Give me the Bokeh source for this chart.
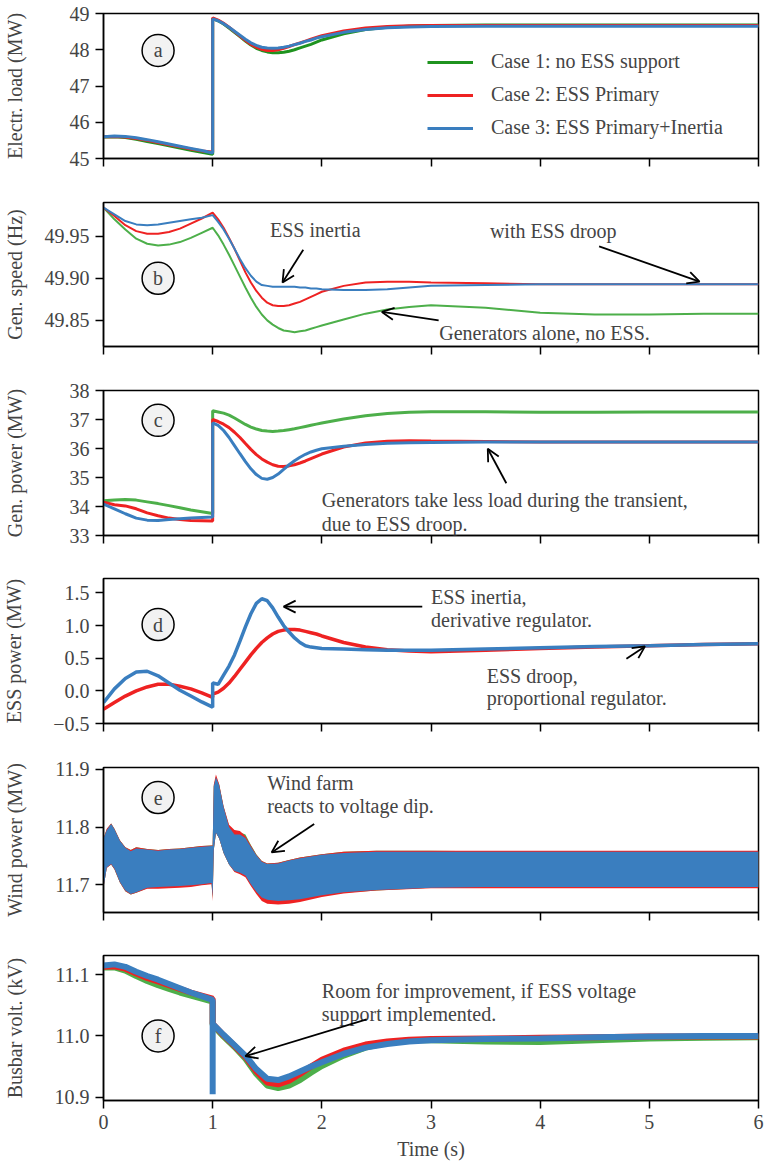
from bokeh.plotting import figure
from bokeh.layouts import column
from bokeh.models import (Range1d, FixedTicker, Label, Arrow, OpenHead, Legend, LegendItem)
from bokeh.embed import file_html
from bokeh.resources import INLINE

FONT = "Liberation Serif"
GREEN_A = "#1f931f"
GREEN = "#4daf4a"
RED = "#ee2222"
BLUE = "#3a7ebf"

# ---------------- data ----------------
T = [0, 0.1, 0.2, 0.3, 0.4, 0.5, 0.6, 0.7, 0.8, 0.9, 1.0,
     1.0, 1.05, 1.1, 1.15, 1.2, 1.25, 1.3, 1.35, 1.4, 1.45,
     1.5, 1.55, 1.6, 1.65, 1.7, 1.75, 1.8, 1.85, 1.9, 1.95, 2.0,
     2.2, 2.4, 2.6, 2.8, 3.0, 3.5, 4.0, 4.5, 5.0, 5.5, 6.0]

# (a) electrical load, MW
load_case1 = [45.59, 45.60, 45.58, 45.53, 45.47, 45.41, 45.35, 45.29, 45.23, 45.17, 45.12,
              48.86, 48.80, 48.71, 48.60, 48.48, 48.36, 48.24, 48.13, 48.04, 47.98,
              47.94, 47.92, 47.92, 47.93, 47.96, 48.00, 48.05, 48.10, 48.15, 48.21, 48.27,
              48.44, 48.56, 48.62, 48.65, 48.67, 48.68, 48.68, 48.68, 48.68, 48.68, 48.68]
load_case2 = [45.60, 45.61, 45.59, 45.55, 45.50, 45.44, 45.38, 45.32, 45.26, 45.21, 45.18,
              48.88, 48.82, 48.73, 48.62, 48.50, 48.38, 48.26, 48.15, 48.07, 48.01,
              47.98, 47.98, 48.00, 48.04, 48.09, 48.14, 48.19, 48.24, 48.29, 48.34, 48.39,
              48.52, 48.60, 48.64, 48.66, 48.67, 48.67, 48.67, 48.67, 48.67, 48.67, 48.67]
load_case3 = [45.60, 45.62, 45.61, 45.57, 45.52, 45.46, 45.40, 45.34, 45.28, 45.22, 45.15,
              48.85, 48.80, 48.72, 48.62, 48.51, 48.40, 48.29, 48.19, 48.12, 48.07,
              48.05, 48.04, 48.05, 48.07, 48.10, 48.14, 48.18, 48.23, 48.27, 48.32, 48.36,
              48.48, 48.56, 48.61, 48.63, 48.64, 48.65, 48.65, 48.65, 48.65, 48.65, 48.65]

# (b) generator speed, Hz
speed_case1 = [49.984, 49.970, 49.958, 49.947, 49.941, 49.939, 49.940, 49.943, 49.948, 49.954, 49.960,
               49.960, 49.951, 49.940, 49.928, 49.915, 49.902, 49.889, 49.877, 49.866, 49.857,
               49.850, 49.845, 49.841, 49.838, 49.837, 49.836, 49.837, 49.838, 49.840, 49.842, 49.844,
               49.851, 49.858, 49.863, 49.866, 49.868, 49.865, 49.859, 49.857, 49.857, 49.858, 49.858]
speed_case2 = [49.984, 49.974, 49.963, 49.956, 49.953, 49.953, 49.955, 49.959, 49.965, 49.971, 49.978,
               49.978, 49.970, 49.960, 49.948, 49.935, 49.921, 49.907, 49.895, 49.885, 49.877,
               49.871, 49.868, 49.867, 49.867, 49.868, 49.870, 49.872, 49.875, 49.878, 49.881, 49.884,
               49.891, 49.895, 49.896, 49.896, 49.895, 49.894, 49.893, 49.893, 49.893, 49.893, 49.893]
speed_case3 = [49.984, 49.976, 49.968, 49.964, 49.963, 49.964, 49.966, 49.968, 49.970, 49.972, 49.975,
               49.975, 49.967, 49.958, 49.947, 49.935, 49.923, 49.912, 49.903, 49.896, 49.892,
               49.891, 49.890, 49.890, 49.890, 49.890, 49.890, 49.889, 49.889, 49.888, 49.888, 49.887,
               49.886, 49.886, 49.887, 49.889, 49.891, 49.892, 49.893, 49.893, 49.893, 49.893, 49.893]

# (c) generator power, MW
gen_case1 = [34.20, 34.22, 34.24, 34.22, 34.16, 34.10, 34.03, 33.96, 33.88, 33.82, 33.76,
             37.30, 37.26, 37.22, 37.15, 37.05, 36.94, 36.83, 36.74, 36.67, 36.62,
             36.60, 36.59, 36.60, 36.62, 36.65, 36.68, 36.72, 36.76, 36.80, 36.84, 36.88,
             37.02, 37.13, 37.21, 37.25, 37.27, 37.27, 37.25, 37.25, 37.26, 37.26, 37.26]
gen_case2 = [34.15, 34.06, 34.02, 33.92, 33.78, 33.68, 33.60, 33.55, 33.52, 33.51, 33.50,
             37.00, 36.93, 36.84, 36.72, 36.56, 36.38, 36.17, 35.97, 35.79, 35.64,
             35.53, 35.44, 35.39, 35.38, 35.40, 35.44, 35.50, 35.57, 35.65, 35.73, 35.81,
             36.05, 36.19, 36.25, 36.27, 36.26, 36.24, 36.22, 36.22, 36.22, 36.22, 36.22]
gen_case3 = [34.08, 33.92, 33.75, 33.60, 33.53, 33.52, 33.55, 33.58, 33.60, 33.62, 33.64,
             36.88, 36.80, 36.62, 36.38, 36.10, 35.82, 35.55, 35.30, 35.10, 34.97,
             34.94, 35.00, 35.12, 35.28, 35.44, 35.58, 35.70, 35.80, 35.88, 35.94, 35.99,
             36.08, 36.14, 36.18, 36.20, 36.21, 36.22, 36.22, 36.22, 36.22, 36.22, 36.22]

# (d) ESS power, MW
ess_case2 = [-0.28, -0.18, -0.08, 0.00, 0.06, 0.10, 0.10, 0.07, 0.03, -0.03, -0.10,
             -0.05, -0.02, 0.04, 0.12, 0.22, 0.33, 0.44, 0.55, 0.65, 0.74,
             0.81, 0.87, 0.91, 0.93, 0.94, 0.94, 0.93, 0.91, 0.89, 0.87, 0.84,
             0.74, 0.67, 0.63, 0.61, 0.60, 0.62, 0.65, 0.67, 0.69, 0.71, 0.72]
ess_case3 = [-0.18, 0.03, 0.19, 0.29, 0.30, 0.23, 0.12, 0.01, -0.08, -0.17, -0.25,
             0.12, 0.10, 0.24, 0.38, 0.55, 0.76, 0.98, 1.18, 1.34, 1.41,
             1.38, 1.27, 1.13, 1.00, 0.90, 0.81, 0.74, 0.69, 0.67, 0.66, 0.65,
             0.64, 0.63, 0.62, 0.62, 0.62, 0.64, 0.66, 0.68, 0.69, 0.71, 0.72]

# (e) wind power envelope (lower / upper), MW
TE = [0, 0.03, 0.07, 0.1, 0.15, 0.2, 0.25, 0.3, 0.4, 0.5, 0.6, 0.7, 0.8, 0.9, 0.99,
      1.0, 1.01, 1.03, 1.06, 1.1, 1.15, 1.2, 1.25, 1.3, 1.35, 1.4, 1.45, 1.5, 1.6, 1.7, 1.8,
      2.0, 2.2, 2.5, 3.0, 3.5, 4.0, 4.5, 5.0, 5.5, 6.0]
wind_case1_hi = [11.780, 11.796, 11.806, 11.797, 11.777, 11.765, 11.760, 11.765, 11.762, 11.760, 11.762,
                 11.763, 11.765, 11.767, 11.768, 11.768, 11.871, 11.887, 11.873, 11.835, 11.802,
                 11.791, 11.791, 11.787, 11.769, 11.753, 11.741, 11.737, 11.738, 11.743, 11.747,
                 11.753, 11.757, 11.759, 11.759, 11.758, 11.758, 11.758, 11.758, 11.758, 11.758]
wind_case1_lo = [11.695, 11.730, 11.735, 11.727, 11.704, 11.689, 11.683, 11.686, 11.694, 11.695, 11.696,
                 11.697, 11.698, 11.700, 11.702, 11.677, 11.760, 11.790, 11.780, 11.755, 11.735,
                 11.723, 11.720, 11.715, 11.700, 11.686, 11.675, 11.671, 11.669, 11.670, 11.673,
                 11.681, 11.686, 11.690, 11.695, 11.695, 11.695, 11.695, 11.695, 11.695, 11.695]
wind_case2_hi = [11.780, 11.797, 11.806, 11.797, 11.777, 11.765, 11.760, 11.765, 11.762, 11.760, 11.762,
                 11.763, 11.765, 11.767, 11.768, 11.768, 11.873, 11.891, 11.874, 11.836, 11.804,
                 11.795, 11.793, 11.784, 11.768, 11.752, 11.741, 11.737, 11.738, 11.743, 11.747,
                 11.753, 11.757, 11.759, 11.759, 11.759, 11.759, 11.759, 11.759, 11.759, 11.759]
wind_case2_lo = [11.695, 11.729, 11.735, 11.727, 11.704, 11.689, 11.683, 11.686, 11.693, 11.693, 11.694,
                 11.695, 11.696, 11.699, 11.701, 11.672, 11.760, 11.790, 11.780, 11.755, 11.735,
                 11.722, 11.718, 11.713, 11.698, 11.684, 11.672, 11.667, 11.666, 11.667, 11.670,
                 11.679, 11.685, 11.690, 11.694, 11.694, 11.694, 11.694, 11.694, 11.694, 11.694]
wind_case3_hi = [11.780, 11.795, 11.805, 11.796, 11.776, 11.764, 11.758, 11.763, 11.761, 11.759, 11.761,
                 11.762, 11.764, 11.766, 11.767, 11.767, 11.870, 11.886, 11.872, 11.834, 11.800,
                 11.787, 11.787, 11.781, 11.766, 11.751, 11.740, 11.736, 11.737, 11.742, 11.746,
                 11.752, 11.755, 11.757, 11.757, 11.757, 11.757, 11.757, 11.757, 11.757, 11.757]
wind_case3_lo = [11.695, 11.730, 11.736, 11.728, 11.705, 11.690, 11.684, 11.687, 11.695, 11.696, 11.697,
                 11.698, 11.699, 11.701, 11.703, 11.680, 11.760, 11.790, 11.780, 11.755, 11.735,
                 11.724, 11.721, 11.716, 11.701, 11.688, 11.678, 11.674, 11.672, 11.673, 11.675,
                 11.682, 11.687, 11.691, 11.695, 11.696, 11.696, 11.696, 11.696, 11.696, 11.696]

# (f) busbar voltage, kV
TF = [0, 0.1, 0.2, 0.3, 0.4, 0.5, 0.6, 0.7, 0.8, 0.9, 1.0, 1.0, 1.0,
      1.1, 1.2, 1.3, 1.4, 1.5, 1.6, 1.7, 1.8, 1.9, 2.0,
      2.2, 2.4, 2.6, 2.8, 3.0, 3.5, 4.0, 4.5, 5.0, 5.5, 6.0]
volt_case1 = [11.112, 11.112, 11.107, 11.098, 11.090, 11.083, 11.077, 11.071, 11.066, 11.061, 11.056, 11.056, 11.018,
              10.999, 10.982, 10.963, 10.938, 10.919, 10.915, 10.919, 10.928, 10.940, 10.951,
              10.968, 10.981, 10.989, 10.993, 10.993, 10.991, 10.990, 10.993, 10.996, 10.997, 10.998]
volt_case2 = [11.113, 11.114, 11.110, 11.102, 11.095, 11.089, 11.083, 11.077, 11.071, 11.066, 11.061, 11.061, 11.020,
              11.001, 10.984, 10.966, 10.942, 10.924, 10.921, 10.927, 10.938, 10.950, 10.961,
              10.976, 10.986, 10.991, 10.994, 10.995, 10.996, 10.997, 10.998, 10.999, 10.999, 10.999]
volt_case3 = [11.115, 11.117, 11.113, 11.105, 11.098, 11.092, 11.085, 11.078, 11.071, 11.065, 11.059, 10.905, 11.020,
              11.002, 10.985, 10.968, 10.946, 10.930, 10.928, 10.934, 10.942, 10.950, 10.957,
              10.971, 10.981, 10.987, 10.991, 10.993, 10.995, 10.996, 10.998, 10.999, 11.000, 11.000]

for arr in (load_case1, load_case2, load_case3, speed_case1, speed_case2, speed_case3,
            gen_case1, gen_case2, gen_case3, ess_case2, ess_case3):
    assert len(arr) == len(T), len(arr)
for arr in (wind_case1_hi, wind_case1_lo, wind_case2_hi, wind_case2_lo, wind_case3_hi, wind_case3_lo):
    assert len(arr) == len(TE), len(arr)
for arr in (volt_case1, volt_case2, volt_case3):
    assert len(arr) == len(TF), len(arr)

X_TICKS = [0, 1, 2, 3, 4, 5, 6]


def make_fig(height, top, bottom, y0, y1, ticks, labels, ylabel, label_standoff, show_x=False):
    p = figure(width=764, height=height, x_range=Range1d(0, 6), y_range=Range1d(y0, y1),
               output_backend="svg", toolbar_location=None,
               min_border_left=103, min_border_right=6,
               min_border_top=top, min_border_bottom=bottom)
    p.xgrid.visible = False
    p.ygrid.visible = False
    p.outline_line_color = "black"
    p.outline_line_width = 1.5
    p.outline_line_alpha = 1.0
    for ax in (p.xaxis[0], p.yaxis[0]):
        ax.axis_line_width = 1.5
        ax.axis_line_color = "black"
        ax.major_tick_line_width = 1.5
        ax.major_tick_line_color = "black"
        ax.major_tick_out = 8
        ax.major_tick_in = 0
        ax.minor_tick_line_color = None
        ax.major_label_text_font = FONT
        ax.major_label_text_font_size = "20px"
        ax.axis_label_text_font = FONT
        ax.axis_label_text_font_size = "20px"
        ax.axis_label_text_font_style = "normal"
    p.yaxis.ticker = FixedTicker(ticks=ticks)
    p.yaxis.major_label_overrides = {t: l for t, l in zip(ticks, labels)}
    p.yaxis.major_label_standoff = 6
    p.yaxis.axis_label = ylabel
    p.yaxis.axis_label_standoff = label_standoff
    p.xaxis.ticker = FixedTicker(ticks=X_TICKS)
    if show_x:
        p.xaxis.axis_label = "Time (s)"
        p.xaxis.major_label_standoff = 6
        p.xaxis.axis_label_standoff = 6
    else:
        # shared time axis: the upper panels show the ticks with blank labels
        p.xaxis.major_label_overrides = {t: "" for t in X_TICKS}
        p.xaxis.major_label_standoff = 0
    return p


def tag(p, y, letter):
    p.scatter([0.5], [y], size=32, marker="circle", fill_color="#f2f2f2",
              line_color="black", line_width=1.5)
    p.add_layout(Label(x=0.5, y=y, text=letter, text_align="center", text_baseline="middle",
                       text_font=FONT, text_font_size="20px"))


def note(p, x, y, text, align="left"):
    p.add_layout(Label(x=x, y=y, text=text, text_align=align, text_baseline="middle",
                       text_font=FONT, text_font_size="20px"))


def arrow(p, x0, y0, x1, y1):
    p.add_layout(Arrow(end=OpenHead(size=12, line_width=1.8, line_color="black"),
                       x_start=x0, y_start=y0, x_end=x1, y_end=y1,
                       line_width=1.8, line_color="black"))


pa = make_fig(189, 13, 31, 45, 49, [45, 46, 47, 48, 49], ["45", "46", "47", "48", "49"],
              "Electr. load (MW)", 41)
ra1 = pa.line(T, load_case1, line_color=GREEN_A, line_width=3)
ra2 = pa.line(T, load_case2, line_color=RED, line_width=3)
ra3 = pa.line(T, load_case3, line_color=BLUE, line_width=3)
tag(pa, 47.98, "a")
legend = Legend(items=[LegendItem(label="Case 1: no ESS support", renderers=[ra1]),
                       LegendItem(label="Case 2: ESS Primary", renderers=[ra2]),
                       LegendItem(label="Case 3: ESS Primary+Inertia", renderers=[ra3])],
                location=(324, 19), orientation="vertical", padding=0, margin=0, spacing=10,
                glyph_width=46, glyph_height=20, label_height=20, label_standoff=18,
                label_text_font=FONT, label_text_font_size="20px",
                background_fill_alpha=0, border_line_alpha=0)
pa.add_layout(legend)

pb = make_fig(188, 13, 31, 49.819, 49.990, [49.85, 49.90, 49.95], ["49.85", "49.90", "49.95"],
              "Gen. speed (Hz)", 16)
pb.line(T, speed_case1, line_color=GREEN, line_width=2)
pb.line(T, speed_case2, line_color=RED, line_width=2)
pb.line(T, speed_case3, line_color=BLUE, line_width=2)
tag(pb, 49.90, "b")
note(pb, 1.94, 49.957, "ESS inertia", "center")
arrow(pb, 1.83, 49.934, 1.64, 49.895)
note(pb, 4.12, 49.956, "with ESS droop", "center")
arrow(pb, 4.54, 49.938, 5.46, 49.896)
note(pb, 4.04, 49.835, "Generators alone, no ESS.", "center")
arrow(pb, 3.07, 49.850, 2.55, 49.860)

pc = make_fig(188, 13, 30, 33, 38, [33, 34, 35, 36, 37, 38], ["33", "34", "35", "36", "37", "38"],
              "Gen. power (MW)", 41)
pc.line(T, gen_case1, line_color=GREEN, line_width=3)
pc.line(T, gen_case2, line_color=RED, line_width=3)
pc.line(T, gen_case3, line_color=BLUE, line_width=3)
tag(pc, 36.97, "c")
note(pc, 2.0, 34.21, "Generators take less load during the transient,")
note(pc, 2.0, 33.38, "due to ESS droop.")
arrow(pc, 3.69, 34.80, 3.52, 35.99)

pd_ = make_fig(189, 13, 31, -0.5, 1.72, [-0.5, 0.0, 0.5, 1.0, 1.5],
               ["\u22120.5", "0.0", "0.5", "1.0", "1.5"], "ESS power (MW)", 25)
pd_.line(T, ess_case2, line_color=RED, line_width=3.5)
pd_.line(T, ess_case3, line_color=BLUE, line_width=3.5)
tag(pd_, 1.015, "d")
note(pd_, 3.0, 1.43, "ESS inertia,")
note(pd_, 3.0, 1.09, "derivative regulator.")
arrow(pd_, 2.92, 1.29, 1.65, 1.29)
note(pd_, 3.51, 0.233, "ESS droop,")
note(pd_, 3.51, -0.115, "proportional regulator.")
arrow(pd_, 4.79, 0.49, 4.96, 0.68)

pe = make_fig(188, 13, 30, 11.652, 11.903, [11.7, 11.8, 11.9], ["11.7", "11.8", "11.9"],
              "Wind power (MW)", 26)
pe.varea(x=TE, y1=wind_case1_lo, y2=wind_case1_hi, fill_color=GREEN)
pe.varea(x=TE, y1=wind_case2_lo, y2=wind_case2_hi, fill_color=RED)
pe.varea(x=TE, y1=wind_case3_lo, y2=wind_case3_hi, fill_color=BLUE)
tag(pe, 11.851, "e")
note(pe, 1.5, 11.877, "Wind farm")
note(pe, 1.5, 11.837, "reacts to voltage dip.")
arrow(pe, 1.93, 11.805, 1.54, 11.756)

pf = make_fig(224, 13, 66, 10.8946, 11.1315, [10.9, 11.0, 11.1], ["10.9", "11.0", "11.1"],
              "Busbar volt. (kV)", 26, show_x=True)
pf.line(TF, volt_case1, line_color=GREEN, line_width=6)
pf.line(TF, volt_case2, line_color=RED, line_width=6)
pf.line(TF, volt_case3, line_color=BLUE, line_width=6)
tag(pf, 11.0, "f")
note(pf, 2.0, 11.074, "Room for improvement, if ESS voltage")
note(pf, 2.0, 11.036, "support implemented.")
arrow(pf, 2.41, 11.027, 1.30, 10.967)

layout = column(pa, pb, pc, pd_, pe, pf)
open("out.html", "w").write(file_html(layout, INLINE))
